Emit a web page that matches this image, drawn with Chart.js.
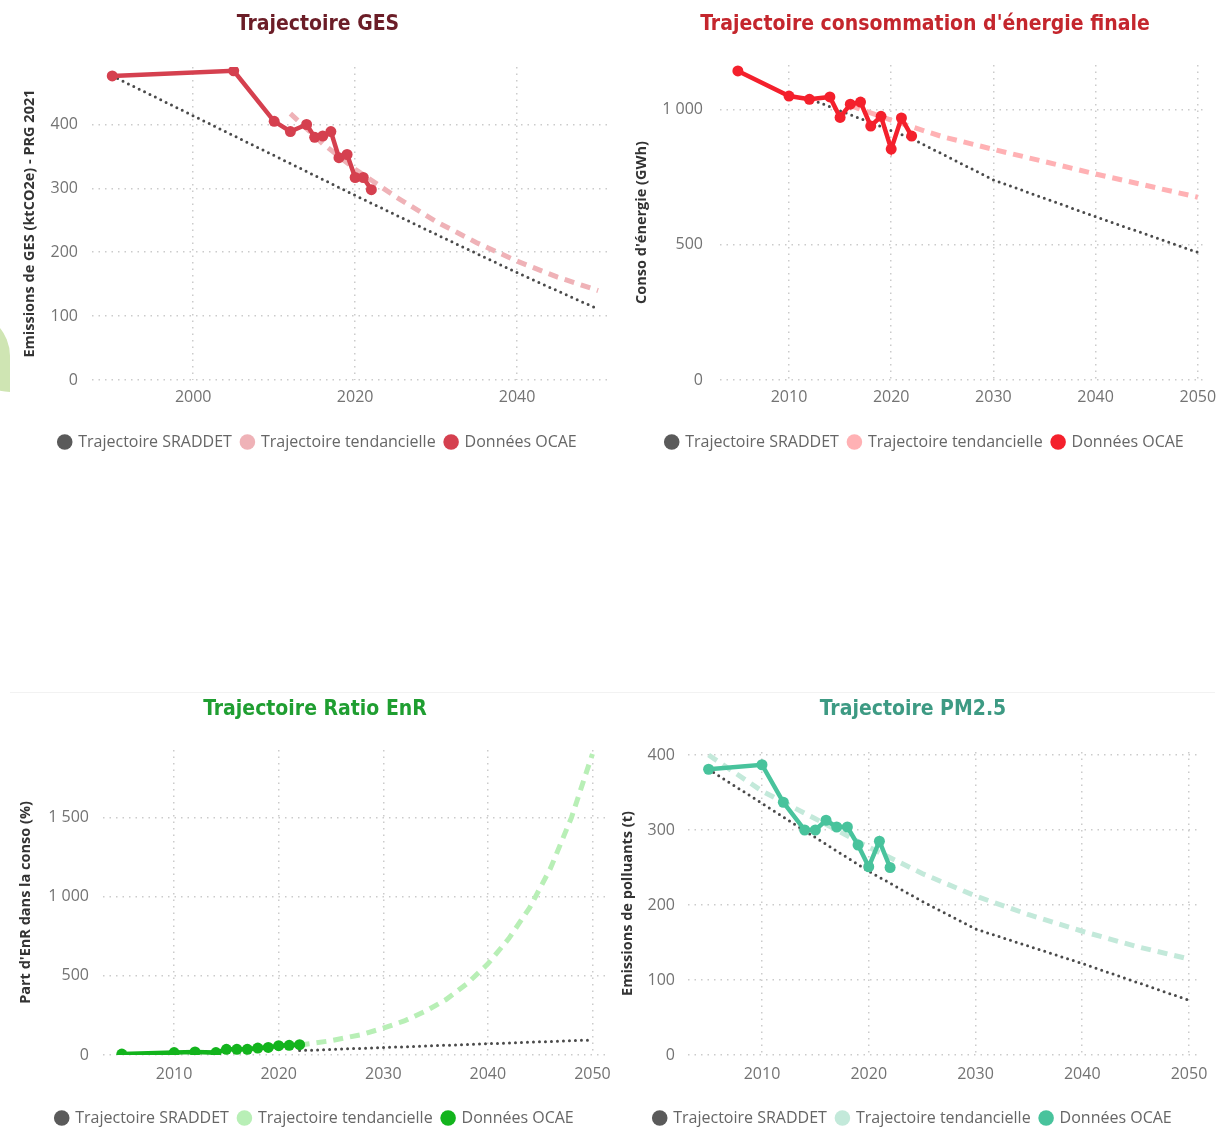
<!DOCTYPE html>
<html>
<head>
<meta charset="utf-8">
<script src="https://cdn.jsdelivr.net/npm/chart.js@4.4.1/dist/chart.umd.min.js"></script>
<style>
    html, body { margin: 0; padding: 0; background: #fff; width: 1226px; height: 1131px; overflow: hidden; }
    .box { position: absolute; }
    .sep { position: absolute; left: 10px; top: 692px; width: 1205px; height: 1px; background: #f2f2f2; }
    .leaf { position: absolute; left: -34px; top: 312px; width: 44px; height: 80px; background: #cfe5b3; border-radius: 0 44px 0 44px; }
</style>
</head>
<body>
<div class="leaf"></div>
<div class="sep"></div>
<div class="box" style="left:0px;top:0px;width:636px;height:460px"><canvas id="ges"></canvas></div>
<div class="box" style="left:624px;top:0px;width:602px;height:460px"><canvas id="energie"></canvas></div>
<div class="box" style="left:0px;top:685px;width:630px;height:451px"><canvas id="enr"></canvas></div>
<div class="box" style="left:610px;top:685px;width:606px;height:451px"><canvas id="pm"></canvas></div>

<script>
// --- Trajectoire GES (ktCO2e)
const gesYears = [1990, 2005, 2010, 2012, 2014, 2015, 2016, 2017, 2018, 2019, 2020, 2021, 2022];
const gesOcae = [476, 484, 405, 389, 400, 380, 382, 389, 348, 353, 317, 317, 298];
const gesSraddetYears = [1990, 2020, 2030, 2040, 2050];
const gesSraddet = [476, 289, 228, 168, 111];
const gesTendYears = [2012, 2016, 2020, 2025, 2030, 2035, 2040, 2045, 2050];
const gesTend = [417, 370, 330, 287, 248, 215, 186, 161, 140];
const gesXTicks = [2000, 2020, 2040];
const gesYTicks = [0, 100, 200, 300, 400];

// --- Consommation d'énergie finale (GWh)
const enYears = [2005, 2010, 2012, 2014, 2015, 2016, 2017, 2018, 2019, 2020, 2021, 2022];
const enOcae = [1143, 1050, 1038, 1047, 971, 1020, 1028, 939, 975, 854, 969, 902];
const enSraddetYears = [2010, 2012, 2022, 2030, 2040, 2050];
const enSraddet = [1050, 1040, 893, 740, 604, 472];
const enTendYears = [2016, 2020, 2025, 2030, 2040, 2050];
const enTend = [1015, 961, 900, 853, 762, 676];
const enYTicks = [0, 500, 1000];

// --- Ratio EnR (%)
const enrYears = [2005, 2010, 2012, 2014, 2015, 2016, 2017, 2018, 2019, 2020, 2021, 2022];
const enrOcae = [6, 15, 19, 15, 36, 36, 36, 44, 48, 59, 61, 65];
const enrSraddetYears = [2022, 2030, 2040, 2050];
const enrSraddet = [28, 47, 71, 95];
const enrTendYears = [2022, 2025, 2028, 2030, 2032, 2034, 2036, 2038, 2040, 2042, 2044, 2046, 2048, 2050];
const enrTend = [63, 90, 130, 170, 215, 275, 350, 450, 575, 735, 930, 1180, 1500, 1900];
const enrYTicks = [0, 500, 1000, 1500];

// --- PM2.5 (t)
const pmYears = [2005, 2010, 2012, 2014, 2015, 2016, 2017, 2018, 2019, 2020, 2021, 2022];
const pmOcae = [381, 387, 337, 300, 300, 313, 304, 304, 280, 251, 285, 250];
const pmSraddetYears = [2005, 2015, 2020, 2025, 2030, 2040, 2050];
const pmSraddet = [381, 290, 245, 205, 168, 122, 73];
const pmTendYears = [2005, 2010, 2015, 2020, 2025, 2030, 2035, 2040, 2045, 2050];
const pmTend = [400, 352, 315, 277, 242, 212, 187, 165, 145, 128];
const pmYTicks = [0, 100, 200, 300, 400];

const decadeTicks = [2010, 2020, 2030, 2040, 2050];

const tickFont = { family: 'Open Sans', size: 16 };

function pts(xs, ys) {
    return xs.map((x, i) => ({ x: x, y: ys[i] }));
}

function frNumber(v) {
    return String(v).replace(/\B(?=(\d{3})+(?!\d))/g, ' ');
}

// no label overflow padding, the plot area is placed by hand
function noPad(s) {
    s.paddingLeft = 0;
    s.paddingRight = 0;
    s.paddingTop = 0;
    s.paddingBottom = 0;
}

function makeChart(id, c) {
    new Chart(document.getElementById(id), {
        type: 'line',
        data: {
            datasets: [
                {
                    label: 'Trajectoire SRADDET',
                    data: pts(c.sraddetYears, c.sraddet),
                    borderColor: '#4a4a4a',
                    backgroundColor: '#5a5a5a',
                    borderWidth: 3,
                    borderDash: [0, 6],
                    borderCapStyle: 'round',
                    pointRadius: 0,
                    order: 3
                },
                {
                    label: 'Trajectoire tendancielle',
                    data: pts(c.tendYears, c.tend),
                    borderColor: c.tendColor,
                    backgroundColor: c.tendColor,
                    borderWidth: 5,
                    borderDash: [10, 7],
                    pointRadius: 0,
                    order: 2
                },
                {
                    label: 'Données OCAE',
                    data: pts(c.years, c.ocae),
                    borderColor: c.color,
                    backgroundColor: c.color,
                    borderWidth: 4.5,
                    pointRadius: 5.5,
                    pointBorderWidth: 0,
                    pointBackgroundColor: c.color,
                    order: 1
                }
            ]
        },
        options: {
            responsive: true,
            maintainAspectRatio: false,
            animation: false,
            layout: { autoPadding: false, padding: 0 },
            plugins: {
                title: {
                    display: true,
                    text: c.title,
                    color: c.titleColor,
                    font: { family: "'Liberation Sans Narrow', 'DejaVu Sans Condensed', sans-serif", size: 21, weight: 'bold', lineHeight: 1.2 },
                    padding: { top: 12.4, bottom: c.titleGap }
                },
                legend: {
                    position: 'bottom',
                    labels: {
                        usePointStyle: true,
                        pointStyle: 'circle',
                        boxWidth: 11,
                        boxHeight: 11,
                        padding: 10,
                        color: '#666',
                        font: { family: 'Open Sans', size: 16 },
                        sort: (a, b) => a.datasetIndex - b.datasetIndex,
                        generateLabels: chart => Chart.defaults.plugins.legend.labels.generateLabels(chart).map(l => {
                            l.lineWidth = 0;
                            l.strokeStyle = 'rgba(0,0,0,0)';
                            l.lineDash = [];
                            return l;
                        })
                    }
                },
                tooltip: { enabled: false }
            },
            scales: {
                x: {
                    type: 'linear',
                    min: c.xMin,
                    max: c.xMax,
                    afterFit: s => { s.height = c.xAxisH; noPad(s); },
                    afterBuildTicks: s => { s.ticks = c.xTicks.map(v => ({ value: v })); },
                    grid: { color: '#cbcbcb', lineWidth: 1.5, drawTicks: false },
                    border: { display: false, dash: [1.5, 5] },
                    ticks: { color: '#737373', font: tickFont, padding: c.xPad, maxRotation: 0, callback: v => String(v) }
                },
                y: {
                    min: 0,
                    max: c.yMax,
                    afterFit: s => { s.width = c.yAxisW; noPad(s); },
                    afterBuildTicks: s => { s.ticks = c.yTicks.map(v => ({ value: v })); },
                    grid: { color: '#cbcbcb', lineWidth: 1.5, drawTicks: false },
                    border: { display: false, dash: [1.5, 5] },
                    ticks: { color: '#737373', font: tickFont, padding: c.yPad, callback: v => frNumber(v) },
                    title: {
                        display: true,
                        text: c.yTitle,
                        color: '#333',
                        font: { family: 'Open Sans', size: 14.5, weight: 'bold', lineHeight: 1.2 },
                        padding: { top: c.yTitlePad, bottom: 0 }
                    }
                },
                // empty right-hand margin, keeps title and legend centred on the whole visual
                yRight: {
                    position: 'right',
                    afterFit: s => { s.width = c.rightW; noPad(s); },
                    grid: { display: false },
                    border: { display: false },
                    ticks: { display: false }
                }
            }
        }
    });
}

makeChart('ges', {
    title: 'Trajectoire GES', titleColor: '#6b1d27', titleGap: 29.4,
    years: gesYears, ocae: gesOcae,
    sraddetYears: gesSraddetYears, sraddet: gesSraddet,
    tendYears: gesTendYears, tend: gesTend,
    color: '#d5404f', tendColor: '#efb2b7',
    xMin: 1987.5, xMax: 2051.1, xTicks: gesXTicks, yTicks: gesYTicks, yMax: 490,
    yTitle: 'Emissions de GES (ktCO2e) - PRG 2021',
    yAxisW: 92, yPad: 14, yTitlePad: 21.3, rightW: 29, xAxisH: 44, xPad: 8
});

makeChart('energie', {
    title: "Trajectoire consommation d'énergie finale", titleColor: '#c4262d', titleGap: 27.4,
    years: enYears, ocae: enOcae,
    sraddetYears: enSraddetYears, sraddet: enSraddet,
    tendYears: enTendYears, tend: enTend,
    color: '#f4202c', tendColor: '#ffb1b4',
    xMin: 2003.25, xMax: 2050.8, xTicks: decadeTicks, yTicks: enYTicks, yMax: 1165,
    yTitle: "Conso d'énergie (GWh)",
    yAxisW: 96, yPad: 17, yTitlePad: 9.3, rightW: 20, xAxisH: 44, xPad: 8
});

makeChart('enr', {
    title: 'Trajectoire Ratio EnR', titleColor: '#1f9e31', titleGap: 27.4,
    years: enrYears, ocae: enrOcae,
    sraddetYears: enrSraddetYears, sraddet: enrSraddet,
    tendYears: enrTendYears, tend: enrTend,
    color: '#13b41d', tendColor: '#b8efb6',
    xMin: 2003.2, xMax: 2051.2, xTicks: decadeTicks, yTicks: enrYTicks, yMax: 1925,
    yTitle: "Part d'EnR dans la conso (%)",
    yAxisW: 103, yPad: 14, yTitlePad: 17.3, rightW: 25, xAxisH: 45, xPad: 10
});

makeChart('pm', {
    title: 'Trajectoire PM2.5', titleColor: '#3d9a83', titleGap: 29.4,
    years: pmYears, ocae: pmOcae,
    sraddetYears: pmSraddetYears, sraddet: pmSraddet,
    tendYears: pmTendYears, tend: pmTend,
    color: '#48c39c', tendColor: '#c3e9da',
    xMin: 2003.07, xMax: 2051.03, xTicks: decadeTicks, yTicks: pmYTicks, yMax: 404,
    yTitle: 'Emissions de polluants (t)',
    yAxisW: 78, yPad: 13, yTitlePad: 9.3, rightW: 16, xAxisH: 45, xPad: 10
});
</script>
</body>
</html>
